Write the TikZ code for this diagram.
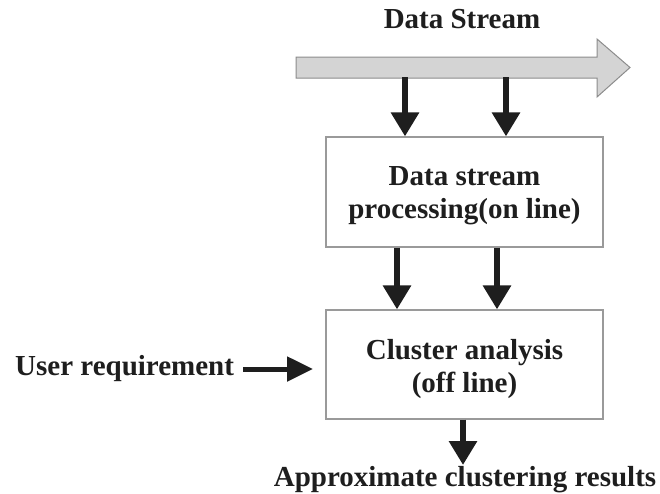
\documentclass[tikz,border=0pt]{standalone}
\usepackage{fontspec}
\setmainfont{Liberation Serif}
\usetikzlibrary{arrows.meta}
\definecolor{inkdark}{HTML}{1E1E1E}
\definecolor{boxline}{HTML}{9A9A9A}
\definecolor{streamfill}{HTML}{D4D4D4}
\definecolor{streamline}{HTML}{8C8C8C}
\tikzset{
  lbl/.style={font=\fontsize{29}{33}\selectfont\bfseries, text=inkdark, inner sep=0pt, align=center},
  procbox/.style={draw=boxline, line width=1.2pt, fill=white, minimum width=277pt,
    minimum height=110pt, inner sep=0pt},
  flow/.style={draw=inkdark, line width=6pt,
    -{Triangle[width=27pt,length=24pt]}},
  sideflow/.style={draw=inkdark, line width=5pt,
    -{Triangle[width=24pt,length=26pt]}}
}
\begin{document}
\begin{tikzpicture}[x=1pt,y=-1pt]
  \useasboundingbox (0,0) rectangle (660,493);
  \fill[white] (0,0) rectangle (660,493);

  % incoming data stream
  \node[lbl] (title) at (462,19) {Data Stream};
  \filldraw[fill=streamfill, draw=streamline, line width=1pt]
    (296,57) -- (597,57) -- (597,39) -- (630,67.5) -- (597,97) -- (597,78)
    -- (296,78) -- cycle;
  \coordinate (s1) at (405,77);
  \coordinate (s2) at (506,77);

  % processing stages
  \node[procbox] (online) at (464.5,192) {};
  \node[lbl] (onlinetext) at ([yshift=-4pt]online.center) {Data stream\\processing(on line)};
  \node[procbox, minimum height=109pt] (offline) at (464.5,364.5) {};
  \node[lbl] (offlinetext) at ([yshift=-5pt]offline.center) {Cluster analysis\\(off line)};

  \draw[flow] (s1) -- (s1 |- online.north);
  \draw[flow] (s2) -- (s2 |- online.north);

  \coordinate (m1) at (397,0);
  \coordinate (m2) at (497,0);
  \draw[flow] (m1 |- online.south) -- (m1 |- offline.north);
  \draw[flow] (m2 |- online.south) -- (m2 |- offline.north);

  % user input
  \node[lbl, anchor=west] (user) at (15,369) {User requirement};
  \coordinate (ustart) at (243,369);
  \coordinate (uend) at (313,369);
  \draw[sideflow] (ustart) -- (uend);

  % output
  \node[lbl] (result) at (465,480) {Approximate clustering results};
  \coordinate (o1) at (463,0);
  \draw[flow] (o1 |- offline.south) -- (o1 |- 0,465);
\end{tikzpicture}
\end{document}
